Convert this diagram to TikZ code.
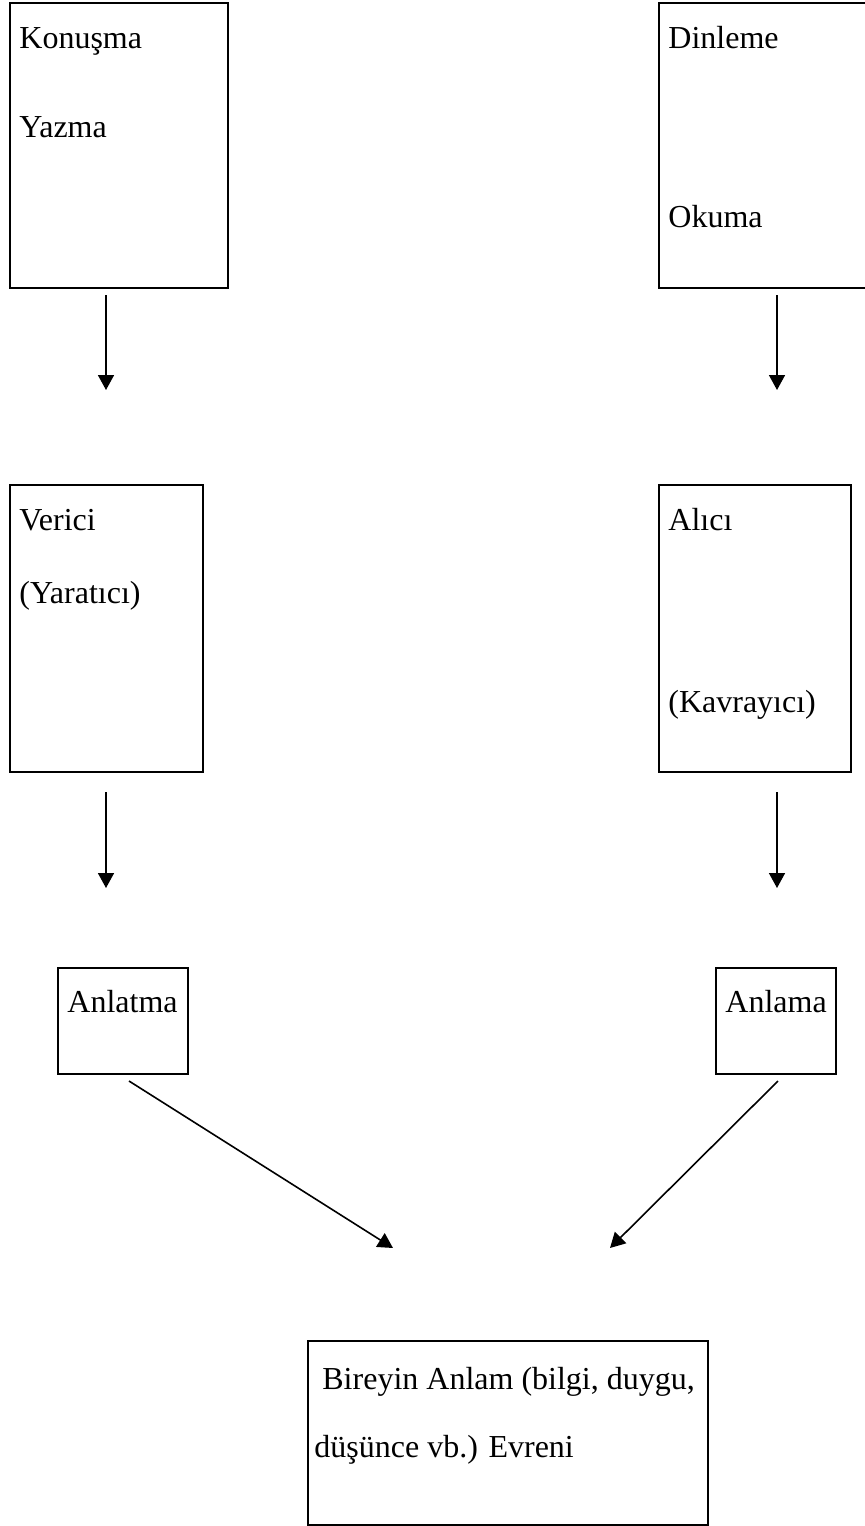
\documentclass[tikz,border=0pt]{standalone}
\usepackage{fontspec}
\setmainfont{Liberation Serif}
\usetikzlibrary{arrows.meta,positioning}

\begin{document}
\begin{tikzpicture}[x=0.5pt, y=-0.5pt, >=Triangle]
        \tikzset{
                kutu/.style = {draw, line width=1pt, rectangle, inner sep=0pt, anchor=north west},
                yazi/.style = {anchor=base west, inner sep=0pt, font=\fontsize{16}{19}\selectfont},
                ok/.style   = {-{Triangle[width=8pt,length=7.5pt]}, line width=0.8pt}
        }
        \useasboundingbox (0,0) rectangle (865,1526);

        % the upper boxes
        \node[kutu, minimum width=109pt, minimum height=142.5pt] (konusma) at (9,2) {};
        \node[kutu, minimum width=111pt, minimum height=142.5pt] (dinleme) at (658,2) {};
        \node[yazi] (t11) at (19,48) {Konuşma};
        \node[yazi] (t12) at (19,137) {Yazma};
        \node[yazi] (t21) at (668,48) {Dinleme};
        \node[yazi] (t22) at (668,227) {Okuma};

        % the middle boxes
        \node[kutu, minimum width=96.5pt, minimum height=143.5pt] (verici) at (9,484) {};
        \node[kutu, minimum width=96pt, minimum height=143.5pt] (alici) at (658,484) {};
        \node[yazi] (t31) at (19,530) {Verici};
        \node[yazi] (t32) at (19,603) {(Yaratıcı)};
        \node[yazi] (t41) at (668,530) {Alıcı};
        \node[yazi] (t42) at (668,712) {(Kavrayıcı)};

        % the small boxes
        \node[kutu, minimum width=65pt, minimum height=53pt] (anlatma) at (57,967) {};
        \node[kutu, minimum width=60pt, minimum height=53pt] (anlama) at (715,967) {};
        \node[yazi] (t51) at (67,1012) {Anlatma};
        \node[yazi] (t61) at (725,1012) {Anlama};

        % the box at the bottom
        \node[kutu, minimum width=200pt, minimum height=92pt] (evren) at (307,1340) {};
        \node[yazi] (t71) at (322,1389) {Bireyin Anlam (bilgi, duygu,};
        \node[yazi] (t72) at (314,1457) {düşünce vb.) Evreni};

        % free ends of the arrows
        \coordinate (a1) at (106,295);  \coordinate (b1) at (106,390);
        \coordinate (a2) at (777,295);  \coordinate (b2) at (777,390);
        \coordinate (a3) at (106,792);  \coordinate (b3) at (106,888);
        \coordinate (a4) at (777,792);  \coordinate (b4) at (777,888);
        \coordinate (a5) at (129,1081); \coordinate (b5) at (393,1248);
        \coordinate (a6) at (778,1081); \coordinate (b6) at (610,1248);

        \foreach \value in {1,...,6}
        \draw[ok] (a\value) -- (b\value);

\end{tikzpicture}
\end{document}
